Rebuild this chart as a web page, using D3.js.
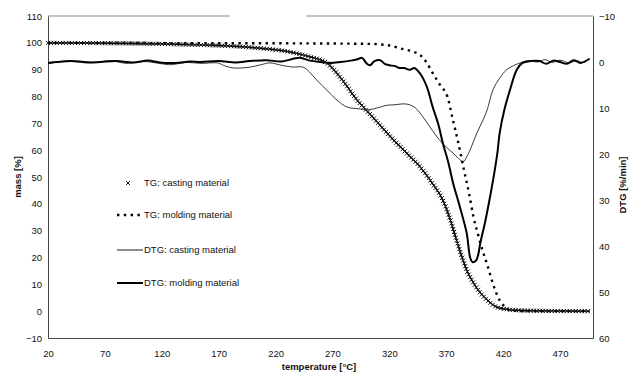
<!DOCTYPE html>
<meta charset="utf-8">
<style>
body { margin: 0; background: #fff; }
svg { font-family: "Liberation Sans", Arial, sans-serif; }
.axis text { font-size: 9.5px; fill: #111; }
.axis path { stroke: #444; }
.title { font-size: 9.5px; font-weight: bold; fill: #111; }
.legend text { font-size: 9.5px; fill: #111; }
</style>
<svg width="629" height="376"></svg>
<script src="https://cdn.jsdelivr.net/npm/d3@7"></script>
<script>

var svg = d3.select("svg");

// tick labels
var tempTicks = [20, 70, 120, 170, 220, 270, 320, 370, 420, 470];
var massTicks = [110, 100, 90, 80, 70, 60, 50, 40, 30, 20, 10, 0, -10];
var dtgTicks = [-10, 0, 10, 20, 30, 40, 50, 60];

// TG casting material  [temperature, mass %]
var tgCasting = [[20,100],[60,99.9],[118,99.6],[154,99.2],[180,98.8],[206,98],[230,96.8],[250,94.8],
  [265,92.5],[279,86],[291,79],[305,72.5],[318,66.4],[333,59.8],[347,53.8],[358,47.5],[367,41.4],
  [374,33.5],[379,26.5],[384,20],[388,15.3],[394,10.5],[400,6.8],[407,3.8],[414,1.6],[425,0.6],
  [435,0.3],[460,0.1],[496,0]];

// TG molding material
var tgMolding = [[20,100],[120,99.9],[241,99.8],[303,99.6],[320,99],[329,98],[340,96.8],[347,95.5],
  [353,92.5],[358,88.8],[365,84],[371,80],[376,71],[381,62],[385,53.8],[390,44],[394,35],
  [398,28.5],[402,22.6],[407,16],[411,10.3],[417,4],[422,1.5],[426,0.3],[440,0],[496,0]];

// DTG casting material [temperature, %/min]
var dtgCasting = [[20,0.2],[22,0.3],[30,-0.1],[48,-0.2],[63,0.1],[75,-0.3],[89,0.3],[104,-0.1],
  [118,0.3],[127,0.6],[142,0.1],[155,0.3],[169,0.2],[176,0.9],[183,1.3],[190,1.3],[198,1.1],
  [207,0.6],[215,0.2],[225,0.7],[235,1.1],[244,1.1],[250,2.2],[256,3.9],[265,6.1],[274,8.3],
  [283,9.8],[294,10.2],[300,10.4],[306,10.2],[312,9.8],[318,9.4],[325,9.3],[332,9.1],[338,9.3],
  [343,10],[347,11.1],[354,13.5],[362,16.3],[370,18.5],[376,19.8],[381,21],[385,21.7],[388,20.6],
  [391,19.1],[397,15.4],[402,12.8],[406,10.4],[411,6.1],[417,3.5],[423,1.7],[429,0.8],[435,0.2],
  [442,-0.3],[450,0],[457,-0.5],[463,0.1],[470,-0.4],[478,0.2],[485,-0.3],[490,0.1],[496,-0.7]];

// DTG molding material
var dtgMolding = [[20,0.2],[28,0],[40,-0.2],[55,0.1],[66,0],[80,-0.2],[95,0.1],[108,-0.3],[118,0.1],
  [132,0.2],[145,-0.1],[154,0],[170,-0.2],[185,0.1],[197,-0.2],[212,-0.4],[225,-0.1],[241,-0.9],
  [250,-0.3],[259,0],[268,0.2],[277,0],[286,-0.3],[292,-0.6],[296,-0.9],[300,0.3],[303,0.7],
  [307,-0.2],[312,-0.4],[316,0.4],[320,0.7],[325,0.9],[329,1.3],[333,1.3],[338,1.7],[342,1.3],
  [347,2.5],[353,5.4],[358,9.7],[363,13.5],[367,17.6],[372,22],[376,26.3],[382,31.5],[388,37.2],
  [391,42.5],[393,43.5],[396,43.2],[398,42],[400,39.3],[404,35],[408,30],[412,24.5],[415,19.7],
  [417,15.4],[421,10.5],[426,6.1],[432,1.7],[437,0.2],[444,-0.2],[452,-0.2],[458,0.4],[464,-0.3],
  [470,0],[476,0.4],[482,-0.4],[488,0.2],[496,-0.7]];

var pLeft = 48, pRight = 593, pTop = 16, pBottom = 338;

var x = d3.scaleLinear().domain([20, 499]).range([pLeft, pRight]);
var yL = d3.scaleLinear().domain([-10, 110]).range([pBottom, pTop]);
var yR = d3.scaleLinear().domain([-10, 60]).range([pTop, pBottom]);

// frame: gray top edge (broken in the scan)
svg.append("line").attr("x1", x(20)).attr("x2", x(180)).attr("y1", pTop).attr("y2", pTop)
  .attr("stroke", "#888").attr("stroke-width", 1.2);
svg.append("line").attr("x1", x(247)).attr("x2", x(499)).attr("y1", pTop).attr("y2", pTop)
  .attr("stroke", "#888").attr("stroke-width", 1.2);

// axes
svg.append("g").attr("class", "axis")
  .attr("transform", "translate(" + pLeft + ",0)")
  .call(d3.axisLeft(yL).tickValues(massTicks).tickSize(0).tickPadding(6))
  .call(g => g.select(".domain").attr("stroke", "#444"));

svg.append("g").attr("class", "axis")
  .attr("transform", "translate(" + pRight + ",0)")
  .call(d3.axisRight(yR).tickValues(dtgTicks).tickSize(0).tickPadding(6))
  .call(g => g.select(".domain").attr("stroke", "#666"));

svg.append("g").attr("class", "axis")
  .attr("transform", "translate(0," + pBottom + ")")
  .call(d3.axisBottom(x).tickValues(tempTicks).tickSize(0).tickPadding(12))
  .call(g => g.select(".domain").attr("stroke", "#444"));

// titles
svg.append("text").attr("class", "title")
  .attr("transform", "translate(21," + (pTop + pBottom) / 2 + ") rotate(-90)")
  .attr("text-anchor", "middle").text("mass [%]");
svg.append("text").attr("class", "title")
  .attr("transform", "translate(626,185) rotate(-90)")
  .attr("text-anchor", "middle").text("DTG [%/min]");
svg.append("text").attr("class", "title")
  .attr("x", 319).attr("y", 370)
  .attr("text-anchor", "middle").text("temperature [°C]");

// curves
var lineL = d3.line().x(d => x(d[0])).y(d => yL(d[1])).curve(d3.curveMonotoneX);
var lineR = d3.line().x(d => x(d[0])).y(d => yR(d[1])).curve(d3.curveCatmullRom);

svg.append("path").datum(dtgCasting).attr("d", lineR)
  .attr("fill", "none").attr("stroke", "#222").attr("stroke-width", 0.9);

svg.append("path").datum(dtgMolding).attr("d", lineR)
  .attr("fill", "none").attr("stroke", "#000").attr("stroke-width", 2);

svg.append("path").datum(tgMolding).attr("d", lineL)
  .attr("fill", "none").attr("stroke", "#000").attr("stroke-width", 2.4)
  .attr("stroke-dasharray", "2.4,4.4");

var tgPath = svg.append("path").datum(tgCasting).attr("d", lineL)
  .attr("fill", "none").attr("stroke", "#000").attr("stroke-width", 1.2);

// x markers spaced along the casting TG curve
var cross = "M-2,-2L2,2M-2,2L2,-2";
var node = tgPath.node(), len = node.getTotalLength();
var marks = svg.append("g");
for (var s = 0; s <= len; s += 3) {
  var p = node.getPointAtLength(s);
  marks.append("path").attr("d", cross)
    .attr("transform", "translate(" + p.x + "," + p.y + ")")
    .attr("stroke", "#111").attr("stroke-width", 1);
}

// legend
var legendItems = ["TG: casting material", "TG: molding material", "DTG: casting material", "DTG: molding material"];
var legendY = [183, 215, 250, 283];
var legend = svg.append("g").attr("class", "legend");
legendItems.forEach(function(name, i) {
  var ly = legendY[i];
  if (i == 0) {
    legend.append("path").attr("d", cross)
      .attr("transform", "translate(128," + ly + ")")
      .attr("stroke", "#111").attr("stroke-width", 1);
  } else if (i == 1) {
    legend.append("line").attr("x1", 117).attr("x2", 140).attr("y1", ly).attr("y2", ly)
      .attr("stroke", "#000").attr("stroke-width", 2.4).attr("stroke-dasharray", "2.4,4.4");
  } else {
    legend.append("line").attr("x1", 117).attr("x2", 143).attr("y1", ly).attr("y2", ly)
      .attr("stroke", "#000").attr("stroke-width", i == 2 ? 0.9 : 2);
  }
  legend.append("text").attr("x", 144).attr("y", ly).attr("dy", "0.35em").text(name);
});

</script>
